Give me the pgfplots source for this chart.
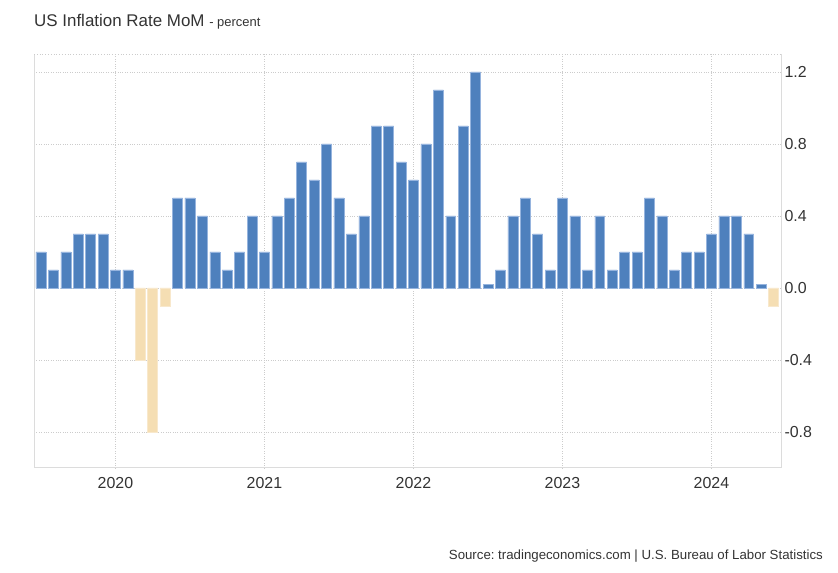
\documentclass[border=0pt]{standalone}
\usepackage{pgfplots}
\pgfplotsset{compat=1.18}
\usepackage{fontspec}
\setmainfont{Liberation Sans}
\frenchspacing
\definecolor{barblue}{RGB}{78,128,189}
\definecolor{baredge}{RGB}{150,180,222}
\definecolor{barneg}{RGB}{245,222,179}
\definecolor{negedge}{RGB}{248,232,204}
\definecolor{txt}{RGB}{51,51,51}
\definecolor{axgray}{RGB}{220,220,220}
\begin{document}
\begin{tikzpicture}[x=1bp,y=1bp]
\path[use as bounding box] (0,0) rectangle (838,573);
\begin{axis}[
  at={(34bp,105bp)}, anchor=south west,
  scale only axis, width=747bp, height=414bp,
  xmin=-0.56, xmax=59.6, ymin=-1.0, ymax=1.3,
  axis line style={draw=none},
  tick style={draw=none},
  ytick={-0.8,-0.4,0,0.4,0.8,1.2},
  yticklabel pos=right,
  yticklabel style={/pgf/number format/.cd,fixed,fixed zerofill,precision=1,assume math mode=true},
  xtick={6,18,30,42,54},
  xticklabels={2020,2021,2022,2023,2024},
  xticklabel style={yshift=-2bp},
  ticklabel style={font=\fontsize{16}{16}\selectfont, text=txt},
  /pgf/number format/assume math mode=true,
  grid=major,
  grid style={dotted, line width=0.8bp, black!20},
  ybar, bar width=0.8, bar shift=0,
  clip=false,
]
\addplot[fill=barblue, draw=baredge, line width=0.5bp] coordinates {
(0,0.2)(1,0.1)(2,0.2)(3,0.3)(4,0.3)(5,0.3)(6,0.1)(7,0.1)
(11,0.5)(12,0.5)(13,0.4)(14,0.2)(15,0.1)(16,0.2)(17,0.4)
(18,0.2)(19,0.4)(20,0.5)(21,0.7)(22,0.6)(23,0.8)(24,0.5)(25,0.3)(26,0.4)(27,0.9)(28,0.9)(29,0.7)
(30,0.6)(31,0.8)(32,1.1)(33,0.4)(34,0.9)(35,1.2)(36,0.02)(37,0.1)(38,0.4)(39,0.5)(40,0.3)(41,0.1)
(42,0.5)(43,0.4)(44,0.1)(45,0.4)(46,0.1)(47,0.2)(48,0.2)(49,0.5)(50,0.4)(51,0.1)(52,0.2)(53,0.2)
(54,0.3)(55,0.4)(56,0.4)(57,0.3)(58,0.02)
};
\addplot[fill=barneg, draw=negedge, line width=0.5bp] coordinates {
(8,-0.4)(9,-0.8)(10,-0.1)(59,-0.1)
};
\draw[axgray, line width=1bp] (rel axis cs:0,0) -- (rel axis cs:1,0);
\draw[axgray, line width=1bp] (rel axis cs:0,0) -- (rel axis cs:0,1);
\draw[axgray, line width=1bp] (rel axis cs:1,0) -- (rel axis cs:1,1);
\draw[black!20, dotted, line width=0.8bp] (rel axis cs:0,1) -- (rel axis cs:1,1);
\end{axis}
\node[anchor=base west, inner sep=0, text=txt] at (34,546) {\fontsize{17}{20}\selectfont US Inflation Rate MoM \fontsize{13}{15}\selectfont - percent};
\node[anchor=base east, inner sep=0, text=txt] at (823,13) {\fontsize{13.3}{15}\selectfont Source: tradingeconomics.com | U.S. Bureau of Labor Statistics};
\end{tikzpicture}
\end{document}
